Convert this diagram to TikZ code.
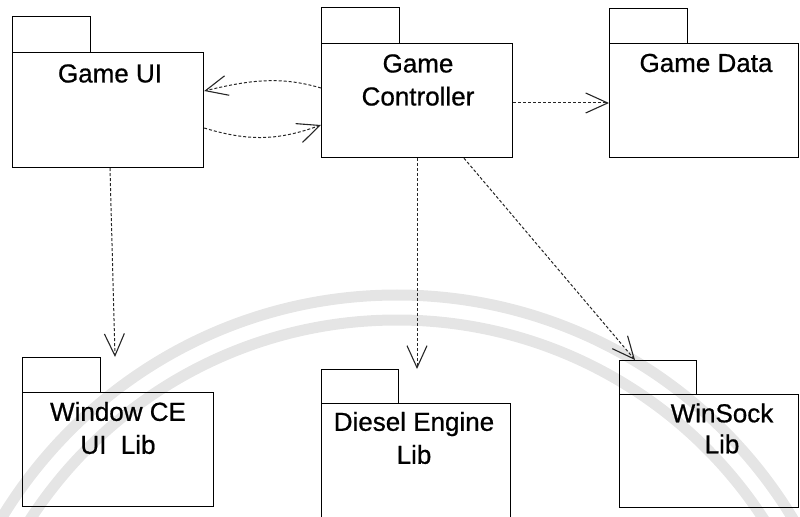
\documentclass[tikz,border=0pt]{standalone}
\usepackage{fontspec}
\setmainfont{Liberation Sans}
\newfontfamily\lblfont[FakeBold=0.7]{Liberation Sans}
\usetikzlibrary{arrows.meta}
\begin{document}
\begin{tikzpicture}[x=1bp,y=-1bp,
  pkg/.style={draw=black,line width=1.2bp,inner sep=0pt,anchor=north west},
  lbl/.style={inner sep=0pt,align=center,font=\lblfont\fontsize{26bp}{33bp}\selectfont},
  dep/.style={draw=black!85,line width=1bp,dash pattern=on 3bp off 2bp,
    -{Straight Barb[length=22bp,width=20bp,line width=1.1bp]}},
  wm/.style={draw=black!10,line width=11bp}]
\useasboundingbox (0,0) rectangle (800,517);
\clip (0,0) rectangle (800,517);
% faint watermark arcs
\draw[wm] (397,757) circle[radius=462];
\draw[wm] (397,757) circle[radius=437];
% package bodies
\node[pkg,minimum width=191bp,minimum height=115bp] (ui) at (12,52) {};
\node[pkg,minimum width=78bp,minimum height=36bp] (uitab) at (12,16) {};
\node[pkg,minimum width=191bp,minimum height=114bp] (ctrl) at (321,43) {};
\node[pkg,minimum width=78bp,minimum height=36bp] (ctrltab) at (321,7) {};
\node[pkg,minimum width=189bp,minimum height=114bp] (data) at (609,43) {};
\node[pkg,minimum width=78bp,minimum height=35bp] (datatab) at (609,8) {};
\node[pkg,minimum width=191bp,minimum height=114bp] (wce) at (22,392) {};
\node[pkg,minimum width=78bp,minimum height=35bp] (wcetab) at (22,357) {};
\node[pkg,minimum width=189bp,minimum height=140bp] (diesel) at (321,403) {};
\node[pkg,minimum width=77bp,minimum height=34bp] (dieseltab) at (321,369) {};
\node[pkg,minimum width=179bp,minimum height=113bp] (sock) at (619,394) {};
\node[pkg,minimum width=77bp,minimum height=34bp] (socktab) at (619,360) {};
% labels
\node[lbl] (uit) at (110,73.5) {Game UI};
\node[lbl] (ctrlt) at (418,80) {Game\\Controller};
\node[lbl] (datat) at (706,63) {Game Data};
\node[lbl] (wcet) at (118,428) {Window CE\\UI\ \ Lib};
\node[lbl] (dieselt) at (414,438) {Diesel Engine\\Lib};
\node[lbl,font=\lblfont\fontsize{26bp}{31bp}\selectfont] (sockt) at (722,428.5) {WinSock\\Lib};
% connectors
\draw[dep] (ctrl.north west |- 0,88) .. controls (280,76) and (250,80) .. (ui.north east |- 0,91);
\draw[dep] (ui.north east |- 0,128) .. controls (250,142) and (280,140) .. (ctrl.north west |- 0,125);
\draw[dep] (ctrl.north east |- 0,103) -- (data.north west |- 0,103);
\draw[dep] (ui.south west -| 110,0) -- (wcetab.north east -| 115,0);
\draw[dep] (ctrl.south west -| 417,0) -- (dieseltab.north west -| 417,0);
\draw[dep] (ctrl.south west -| 464,0) -- (socktab.north west -| 635,0);
\end{tikzpicture}
\end{document}
